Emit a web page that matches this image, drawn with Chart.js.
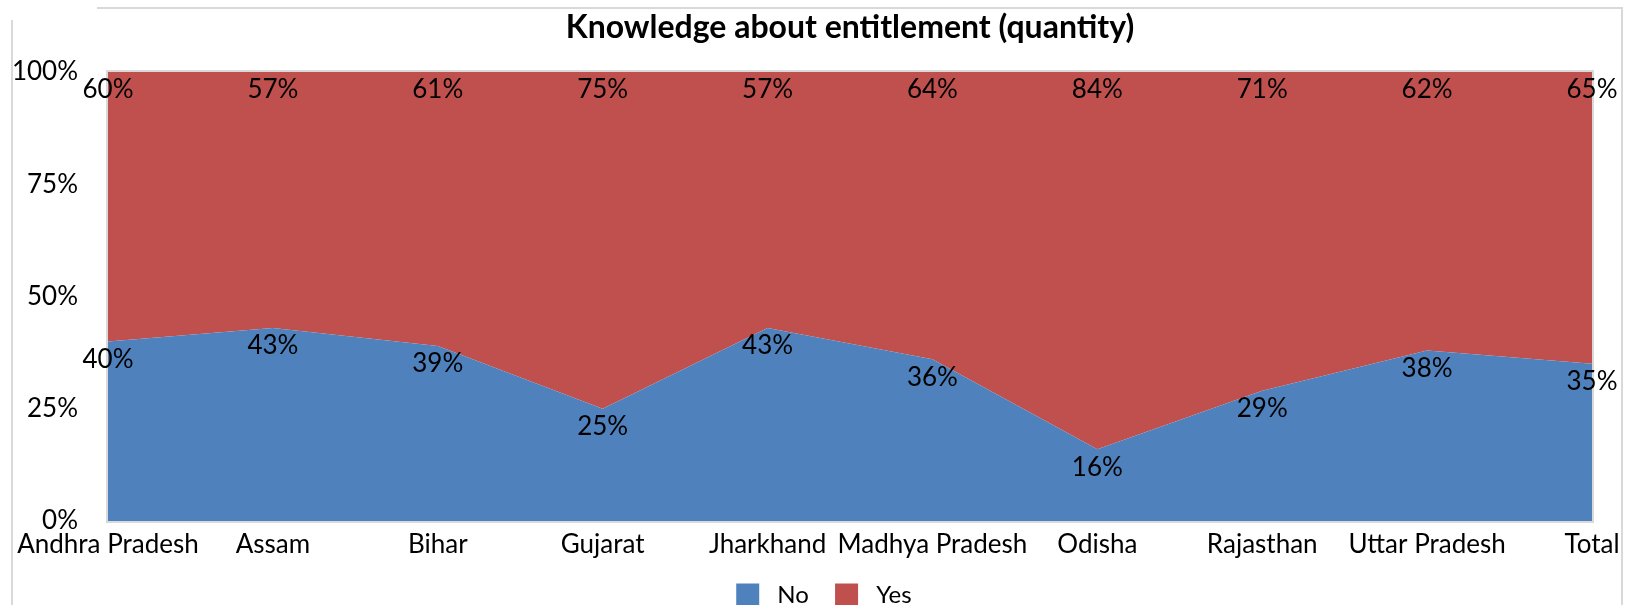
<!DOCTYPE html>
<html>
<head>
<meta charset="utf-8">
<script src="https://cdn.jsdelivr.net/npm/chart.js@4.4.0/dist/chart.umd.min.js"></script>
<style>
  html, body { margin: 0; padding: 0; background: #fff; }
  #wrap { width: 1630px; height: 605px; position: relative; }
</style>
</head>
<body>
<div id="wrap"><canvas id="areaChart" width="1630" height="605"></canvas></div>
<script>
// Knowledge about entitlement (quantity) - 100% stacked area

const states = ['Andhra Pradesh', 'Assam', 'Bihar', 'Gujarat', 'Jharkhand',
    'Madhya Pradesh', 'Odisha', 'Rajasthan', 'Uttar Pradesh', 'Total'];
const noValues = [40, 43, 39, 25, 43, 36, 16, 29, 38, 35];
const yesValues = [60, 57, 61, 75, 57, 64, 84, 71, 62, 65];
const yTicks = [0, 25, 50, 75, 100];
const chartTitle = 'Knowledge about entitlement (quantity)';

const BLUE = '#4F81BD';
const RED = '#C0504D';
const FONT = 'Lato, "DejaVu Sans", sans-serif';

Chart.defaults.font.family = FONT;
Chart.defaults.color = '#000';

// frame lines, title and plot outline
const framePlugin = {
    id: 'frame',
    afterLayout(chart) {
        // legend sits a bit right of the canvas centre in the original
        chart.legend.left += 31;
        chart.legend.right += 31;
    },
    beforeDraw(chart) {
        const c = chart.ctx;
        const a = chart.chartArea;
        c.save();
        c.strokeStyle = '#d9d9d9';
        c.lineWidth = 2;
        c.beginPath();
        c.moveTo(97, 8); c.lineTo(1622, 8); c.lineTo(1622, 605);
        c.moveTo(12, 20); c.lineTo(12, 605);
        c.stroke();
        c.fillStyle = '#000';
        c.font = 'bold 32px ' + FONT;
        c.textAlign = 'center';
        c.textBaseline = 'middle';
        c.fillText(chartTitle, (a.left + a.right) / 2, 28);
        c.restore();
    },
    afterDatasetsDraw(chart) {
        const c = chart.ctx;
        const a = chart.chartArea;
        c.save();
        c.strokeStyle = '#d9d9d9';
        c.lineWidth = 2;
        c.strokeRect(a.left - 1, a.top - 1, a.right - a.left + 2, a.bottom - a.top + 2);
        c.restore();
    }
};

// data labels just under the top edge of each series
const labelPlugin = {
    id: 'areaLabels',
    afterDraw(chart) {
        const c = chart.ctx;
        c.save();
        c.fillStyle = '#000';
        c.font = '26px ' + FONT;
        c.textAlign = 'center';
        c.textBaseline = 'middle';
        chart.data.datasets.forEach((ds, i) => {
            const meta = chart.getDatasetMeta(i);
            meta.data.forEach((pt, j) => {
                c.fillText(ds.data[j] + '%', pt.x, pt.y + 18);
            });
        });
        c.restore();
    }
};

new Chart(document.getElementById('areaChart'), {
    type: 'line',
    data: {
        labels: states,
        datasets: [
            {
                label: 'No',
                data: noValues,
                backgroundColor: BLUE,
                borderColor: BLUE,
                borderWidth: 0,
                pointRadius: 0,
                fill: 'origin',
                tension: 0
            },
            {
                label: 'Yes',
                data: yesValues,
                backgroundColor: RED,
                borderColor: RED,
                borderWidth: 0,
                pointRadius: 0,
                fill: '-1',
                tension: 0
            }
        ]
    },
    options: {
        responsive: false,
        animation: false,
        layout: { padding: { left: 0, right: 38, top: 72, bottom: -12 } },
        plugins: {
            title: { display: false },
            tooltip: { enabled: false },
            legend: {
                position: 'bottom',
                labels: {
                    boxWidth: 23,
                    boxHeight: 23,
                    padding: 20,
                    font: { size: 24 },
                    color: '#000',
                    generateLabels(chart) {
                        return Chart.defaults.plugins.legend.labels.generateLabels(chart)
                            .map(item => ({ ...item, text: ' ' + item.text + ' ', lineWidth: 0 }));
                    }
                }
            }
        },
        scales: {
            x: {
                offset: false,
                grid: { display: false, drawTicks: false },
                border: { display: false },
                ticks: {
                    autoSkip: false,
                    maxRotation: 0,
                    padding: 8,
                    font: { size: 26 }
                },
                afterFit(scale) { scale.height = 42; }
            },
            y: {
                stacked: true,
                min: 0,
                max: 100,
                grid: { display: false, drawTicks: false },
                border: { display: false },
                afterBuildTicks(scale) {
                    scale.ticks = yTicks.map(v => ({ value: v }));
                },
                ticks: {
                    padding: 30,
                    font: { size: 26 },
                    callback: v => v + '%'
                },
                afterFit(scale) { scale.width = 108; }
            }
        }
    },
    plugins: [framePlugin, labelPlugin]
});
</script>
</body>
</html>
